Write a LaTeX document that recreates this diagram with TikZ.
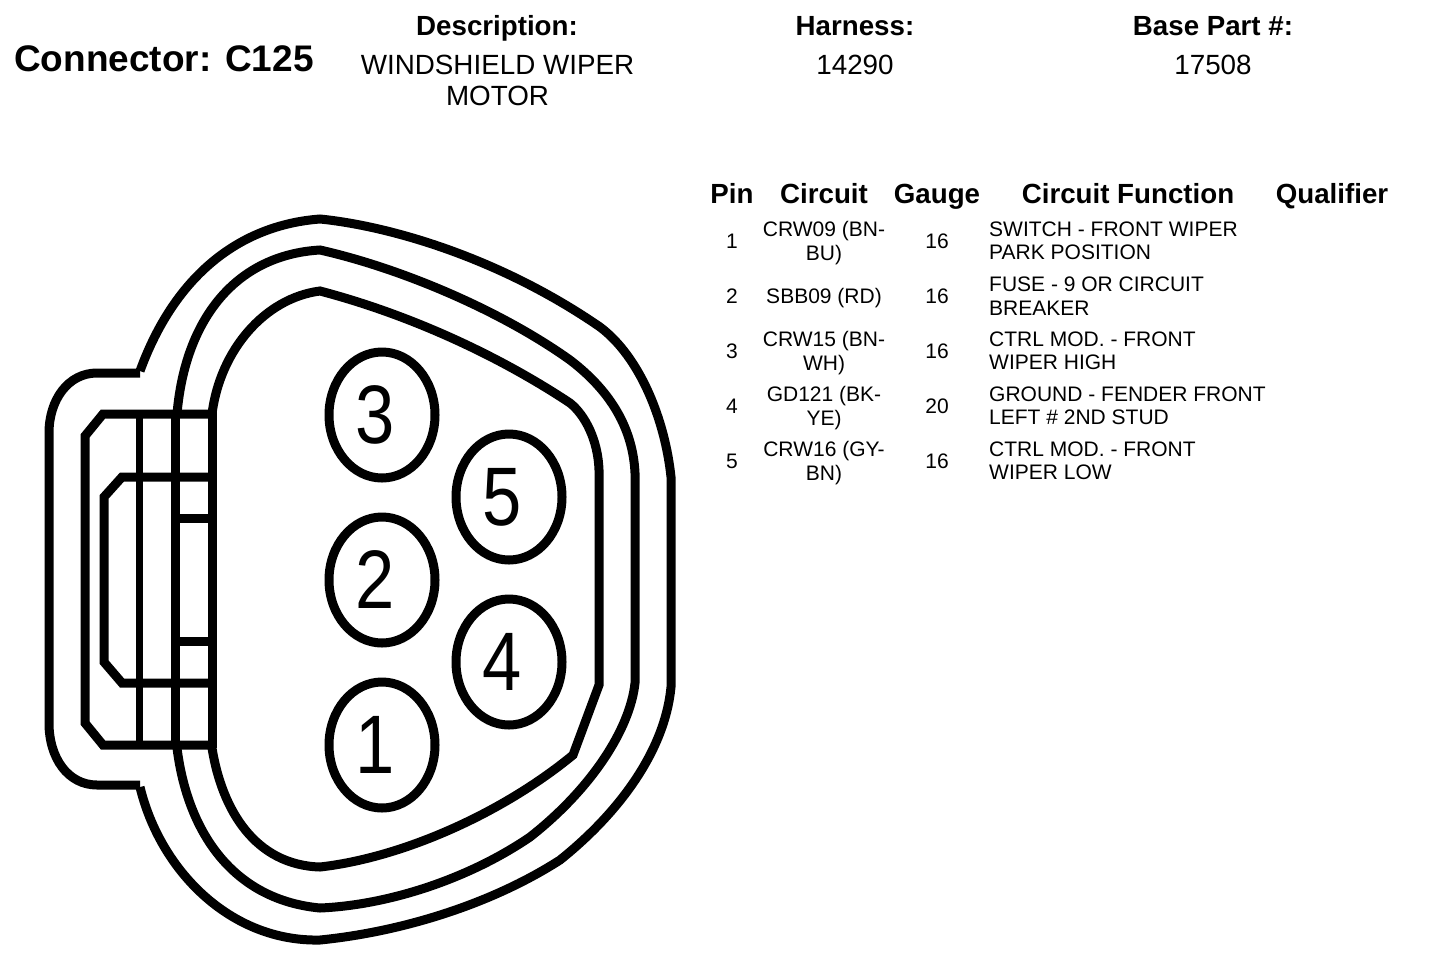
\documentclass[tikz,border=0pt]{standalone}
\usepackage{fontspec}
\setmainfont{Liberation Sans}
\usetikzlibrary{shapes.geometric}
\tikzset{
	shell/.style={line width=9pt,line join=miter},
	pinhole/.style={draw,ellipse,line width=9pt,minimum width=106pt,minimum height=126pt,inner sep=0pt},
	pinnum/.style={font=\fontsize{83}{83}\selectfont,inner sep=0pt,xscale=.85,transform shape},
	headtxt/.style={font=\fontsize{27.7}{31}\selectfont\bfseries,inner sep=0pt,anchor=base},
	bigtxt/.style={font=\fontsize{27.8}{31}\selectfont,align=center,inner sep=0pt},
	celltxt/.style={font=\fontsize{21}{23.5}\selectfont,align=center,inner sep=0pt},
	functxt/.style={font=\fontsize{21}{23.5}\selectfont,align=left,anchor=west,inner sep=0pt},
}
\begin{document}
\begin{tikzpicture}[x=1pt,y=-1pt]
	\useasboundingbox (0,0) rectangle (1440,970);

	% title block
	\node[font=\fontsize{37}{40}\selectfont\bfseries,inner sep=0pt] (title) at (164,58.5) {Connector: C125};
	\node[headtxt] (deschead) at (497,35) {Description:};
	\node[headtxt] (harnhead) at (855,35) {Harness:};
	\node[headtxt] (basehead) at (1213,35) {Base Part \#:};
	\node[bigtxt] (descval) at (497.5,80.5) {WINDSHIELD WIPER\\MOTOR};
	\node[bigtxt] (harnval) at (855,65) {14290};
	\node[bigtxt] (baseval) at (1213,65) {17508};

	% table
	\node[headtxt] (pinhead) at (732,203) {Pin};
	\node[headtxt] (circhead) at (824,203) {Circuit};
	\node[headtxt] (gaugehead) at (937,203) {Gauge};
	\node[headtxt] (funchead) at (1128,203) {Circuit Function};
	\node[headtxt] (qualhead) at (1332,203) {Qualifier};

	\foreach \i/\ypos/\cy/\circ/\ga/\func in {
		1/241/243/{CRW09 (BN-\\BU)}/16/{SWITCH - FRONT WIPER\\PARK POSITION},
		2/296/298/{SBB09 (RD)}/16/{FUSE - 9 OR CIRCUIT\\BREAKER},
		3/351/353/{CRW15 (BN-\\WH)}/16/{CTRL MOD. - FRONT\\WIPER HIGH},
		4/406/408/{GD121 (BK-\\YE)}/20/{GROUND - FENDER FRONT\\LEFT \# 2ND STUD},
		5/461/463/{CRW16 (GY-\\BN)}/16/{CTRL MOD. - FRONT\\WIPER LOW}}
	{
		\node[celltxt] (pin\i) at (732,\ypos) {\i};
		\node[celltxt] (circ\i) at (824,\cy) {\circ};
		\node[celltxt] (gauge\i) at (937,\ypos) {\ga};
		\node[functxt] (func\i) at (989,\ypos) {\func};
	}

	% outer shell
	\draw[shell] (140,373) -- (97,373) .. controls (68,373) and (49,400) .. (49,433) -- (49,723)
		.. controls (49,758) and (68,785) .. (97,785) -- (140,785);
	\draw[shell] (140,371) .. controls (175,275) and (240,225) .. (320,219)
		.. controls (390,226) and (500,258) .. (600,327)
		.. controls (640,357) and (665,420) .. (671,477) -- (671,687)
		.. controls (665,750) and (620,812) .. (560,860)
		.. controls (490,905) and (400,932) .. (320,940)
		.. controls (230,942) and (160,870) .. (140,787);

	% middle wall
	\draw[shell] (177,414) .. controls (185,320) and (235,255) .. (320,250)
		.. controls (400,268) and (500,310) .. (570,360)
		.. controls (612,392) and (633,430) .. (635,473) -- (635,683)
		.. controls (630,730) and (590,790) .. (530,837)
		.. controls (470,878) and (390,905) .. (320,908)
		.. controls (235,900) and (188,835) .. (177,748);

	% inner wall
	\draw[shell] (212,414) .. controls (220,350) and (265,298) .. (320,291)
		.. controls (400,312) and (490,350) .. (570,403)
		.. controls (585,415) and (598,440) .. (599,470) -- (599,685) -- (573,755)
		.. controls (500,815) and (400,858) .. (320,867)
		.. controls (255,865) and (222,810) .. (212,748);

	% latch
	\draw[shell] (212,410) -- (212,748);
	\draw[shell] (212,414) -- (103,414) -- (85,436) -- (85,723) -- (103,745) -- (212,745);
	\draw[shell] (212,477) -- (122,477) -- (104,497) -- (104,662) -- (122,683) -- (212,683);
	\draw[line width=7pt] (139,414) -- (139,744);
	\draw[line width=9pt] (175,414) -- (175,744);
	\draw[shell] (175,518) -- (212,518);
	\draw[shell] (175,641) -- (212,641);

	% pins
	\foreach \i/\xc/\yc in {1/382/745,2/382/580,3/382/415,4/509/662,5/509/497}
	{
		\node[pinhole] (hole\i) at (\xc,\yc) {};
		\node[pinnum] (num\i) at ([xshift=-7pt]hole\i.center) {\i};
	}
\end{tikzpicture}
\end{document}
